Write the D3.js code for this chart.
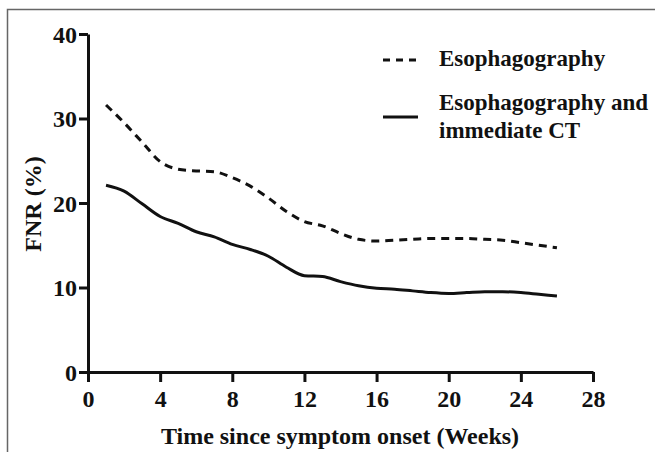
<!DOCTYPE html>
<html>
<head>
<meta charset="utf-8">
<script src="https://cdn.jsdelivr.net/npm/d3@7"></script>
<style>
  body { margin: 0; background: #fff; }
  svg text { font-family: "Liberation Serif", "Times New Roman", serif; font-weight: bold; fill: #111; }
</style>
</head>
<body>
<svg id="chart"></svg>
<script>
const weeks = [1, 2, 3, 4, 5, 6, 7, 8, 9, 10, 11, 12, 13, 14, 15, 16, 17, 18, 19, 20, 21, 22, 23, 24, 25, 26];
const esophagography = [31.6, 29.5, 27.2, 24.9, 24.0, 23.8, 23.7, 23.0, 22.0, 20.6, 19.0, 17.8, 17.3, 16.4, 15.7, 15.5, 15.6, 15.7, 15.8, 15.8, 15.8, 15.7, 15.6, 15.3, 15.0, 14.7];
const withCT = [22.1, 21.4, 19.9, 18.4, 17.6, 16.6, 16.0, 15.1, 14.5, 13.7, 12.4, 11.4, 11.3, 10.7, 10.2, 9.9, 9.8, 9.6, 9.4, 9.3, 9.4, 9.5, 9.5, 9.4, 9.2, 9.0];
const xTicks = [0, 4, 8, 12, 16, 20, 24, 28];
const yTicks = [0, 10, 20, 30, 40];
const seriesNames = ["Esophagography", "Esophagography and", "immediate CT"];

const width = 655;
const height = 452;
const margin = {top: 34, bottom: 80, left: 88, right: 62};

const svg = d3.select("#chart")
    .attr("width", width)
    .attr("height", height);

// frame of the original figure
svg.append("rect")
    .attr("x", 7.5).attr("y", 9.5)
    .attr("width", width).attr("height", height)
    .attr("fill", "none")
    .attr("stroke", "#666")
    .attr("stroke-width", 1.5);

const x = d3.scaleLinear().domain([0, 28]).range([margin.left, width - margin.right]);
const y = d3.scaleLinear().domain([0, 40]).range([height - margin.bottom, margin.top]);

const xAxis = svg.append("g")
    .attr("transform", `translate(0, ${y(0)})`)
    .call(d3.axisBottom(x).tickValues(xTicks).tickSize(10).tickSizeOuter(0).tickPadding(3));
xAxis.selectAll("text").attr("font-size", "24px").attr("dy", "0.9em");

const yAxis = svg.append("g")
    .attr("transform", `translate(${x(0)}, 0)`)
    .call(d3.axisLeft(y).tickValues(yTicks).tickSize(9).tickSizeOuter(0).tickPadding(2));
yAxis.selectAll("text").attr("font-size", "24px").attr("dy", "0.34em");

svg.selectAll(".domain, .tick line")
    .attr("stroke", "#111")
    .attr("stroke-width", 3);

const line = d3.line()
    .x((d, i) => x(weeks[i]))
    .y(d => y(d))
    .curve(d3.curveMonotoneX);

svg.append("path")
    .attr("d", line(esophagography))
    .attr("fill", "none")
    .attr("stroke", "#111")
    .attr("stroke-width", 3)
    .attr("stroke-dasharray", "8,6");

svg.append("path")
    .attr("d", line(withCT))
    .attr("fill", "none")
    .attr("stroke", "#111")
    .attr("stroke-width", 3);

// legend
const legend = svg.append("g");
legend.append("line")
    .attr("x1", 383).attr("x2", 418).attr("y1", 60).attr("y2", 60)
    .attr("stroke", "#111").attr("stroke-width", 3)
    .attr("stroke-dasharray", "7,6");
legend.append("text")
    .attr("x", 439).attr("y", 66)
    .attr("font-size", "23px")
    .text(seriesNames[0]);
legend.append("line")
    .attr("x1", 383).attr("x2", 418).attr("y1", 117).attr("y2", 117)
    .attr("stroke", "#111").attr("stroke-width", 3);
legend.append("text")
    .attr("x", 439).attr("y", 110)
    .attr("font-size", "23px")
    .text(seriesNames[1]);
legend.append("text")
    .attr("x", 439).attr("y", 138)
    .attr("font-size", "23px")
    .text(seriesNames[2]);

// axis titles
svg.append("text")
    .attr("x", 340).attr("y", 444)
    .attr("text-anchor", "middle")
    .attr("font-size", "24px")
    .text("Time since symptom onset (Weeks)");

svg.append("text")
    .attr("transform", "translate(41, 204) rotate(-90)")
    .attr("text-anchor", "middle")
    .attr("font-size", "24px")
    .text("FNR (%)");
</script>
</body>
</html>
